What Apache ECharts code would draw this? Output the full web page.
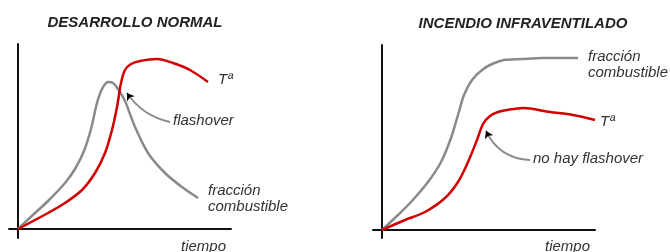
<!DOCTYPE html>
<html>
<head>
<meta charset="utf-8">
<script src="https://cdn.jsdelivr.net/npm/echarts@6/dist/echarts.min.js"></script>
<style>
  html, body { margin: 0; padding: 0; background: #fff; }
  #chart { width: 670px; height: 252px; }
</style>
</head>
<body>
<div id="chart"></div>
<script>
// curves, [tiempo, valor] (1 unit = 1 px)
const normalFuel = [[0, 0], [17, 16], [30, 28], [47, 46], [57, 60], [66, 78], [73, 100], [79, 126], [84, 140], [90, 147], [95, 146], [100, 140], [107, 128], [117, 102], [130, 76], [147, 56], [164, 42], [180, 31]]
const normalTemp = [[0, 0], [30, 16], [47, 26], [64, 39], [77, 56], [87, 76], [94, 99], [99, 122], [103, 146], [107, 159], [113, 165], [122, 168], [139, 170], [155, 166], [172, 159], [190, 147]]
const underFuel = [[0, 0], [16, 15], [29, 28], [46, 48], [59, 68], [69, 92], [76, 115], [82, 135], [90, 150], [100, 160], [110, 166], [122, 170], [140, 171], [160, 172], [196, 172]]
const underTemp = [[0, 0], [23, 10], [43, 18], [63, 32], [76, 48], [86, 68], [95, 90], [101, 106], [108, 114], [116, 118], [125, 120], [141, 122], [168, 118], [191, 115], [213, 110]]

// annotation arrows: [from, to]
const normalArrow = [[152, 107], [109, 136]]
const normalArrowTip = [[111.8, 131.9], [109, 136]]
const underArrow = [[148, 70], [104, 99]]
const underArrowTip = [[106.2, 94.5], [104, 99]]

const titles = ['DESARROLLO NORMAL', 'INCENDIO INFRAVENTILADO']

const RED = '#d20000'
const GRAY = '#8a8a8a'
const FONT = '"Liberation Sans", Arial, sans-serif'

const chart = echarts.init(document.getElementById('chart'))

function axisX(i) {
  return {
    type: 'value', gridIndex: i, min: -9, max: 213,
    axisLine: { lineStyle: { color: '#111', width: 2 } },
    axisTick: { show: false }, axisLabel: { show: false }, splitLine: { show: false }
  }
}
function axisY(i, min) {
  return {
    type: 'value', gridIndex: i, min: min, max: 185,
    axisLine: { show: true, lineStyle: { color: '#111', width: 2 } },
    axisTick: { show: false }, axisLabel: { show: false }, splitLine: { show: false }
  }
}
function curve(i, data, color) {
  return {
    type: 'line', xAxisIndex: i, yAxisIndex: i, data: data,
    smooth: 0.3, showSymbol: false, silent: true,
    lineStyle: { color: color, width: 2.5 }
  }
}
function arrow(i, coords, color, curveness, sym) {
  return {
    type: 'lines', coordinateSystem: 'cartesian2d', xAxisIndex: i, yAxisIndex: i,
    silent: true, symbol: ['none', sym ? 'arrow' : 'none'], symbolSize: 7,
    lineStyle: { color: color, width: sym ? 1 : 1.8, curveness: curveness, opacity: 1 },
    data: [{ coords: coords }]
  }
}
function label(x, y, text, extra) {
  return {
    type: 'text', x: x, y: y,
    style: Object.assign({ text: text, fill: '#333', font: 'italic 15px ' + FONT, verticalAlign: 'middle', lineHeight: 16 }, extra || {})
  }
}

chart.setOption({
  animation: false,
  title: [
    { text: titles[0], left: 130, top: 10, textAlign: 'center',
      textStyle: { fontFamily: FONT, fontSize: 15, fontWeight: 'bold', fontStyle: 'italic', color: '#222' } },
    { text: titles[1], left: 518, top: 11, textAlign: 'center',
      textStyle: { fontFamily: FONT, fontSize: 15, fontWeight: 'bold', fontStyle: 'italic', color: '#222' } }
  ],
  grid: [
    { left: 9, top: 44, width: 222, height: 194 },
    { left: 373, top: 45, width: 222, height: 193 }
  ],
  xAxis: [axisX(0), axisX(1)],
  yAxis: [axisY(0, -9), axisY(1, -8)],
  series: [
    curve(0, normalFuel, GRAY),
    curve(0, normalTemp, RED),
    curve(1, underFuel, GRAY),
    curve(1, underTemp, RED),
    arrow(0, normalArrow, GRAY, 0.2, false),
    arrow(0, normalArrowTip, '#000', 0, true),
    arrow(1, underArrow, GRAY, 0.3, false),
    arrow(1, underArrowTip, '#000', 0, true)
  ],
  graphic: [
    label(218, 80, 'Tª'),
    label(173, 121, 'flashover'),
    label(208, 199, 'fracción\ncombustible'),
    label(181, 247, 'tiempo'),
    label(588, 65, 'fracción\ncombustible'),
    label(600, 122, 'Tª'),
    label(533, 159, 'no hay flashover'),
    label(545, 247, 'tiempo')
  ]
})
</script>
</body>
</html>
